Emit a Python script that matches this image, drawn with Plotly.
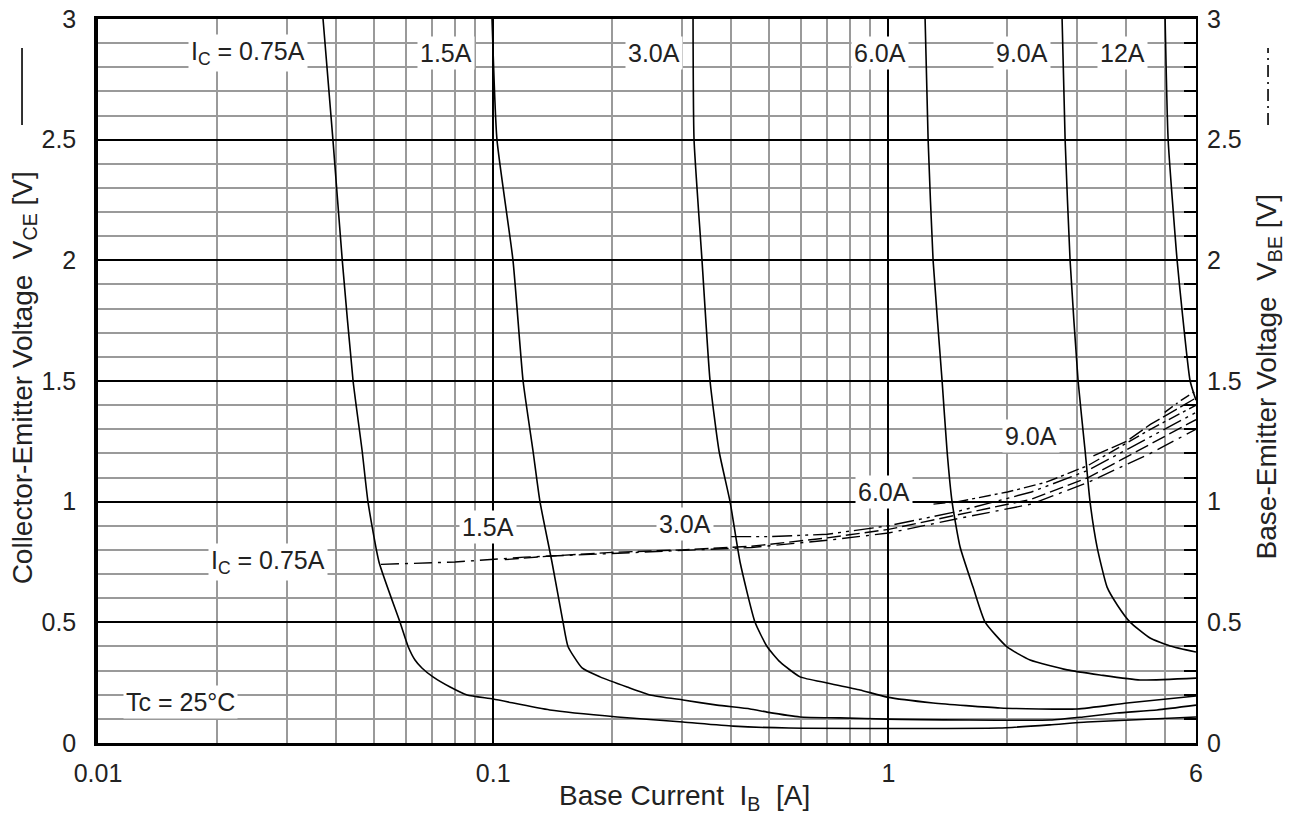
import plotly.graph_objects as go
import numpy as np

# ---------------- data ----------------
# Collector-Emitter voltage curves (solid)
ib_075 = [0.0371, 0.0393, 0.0415, 0.0442, 0.0466, 0.0482, 0.0514, 0.0581, 0.0609, 0.0634, 0.066, 0.0704,
          0.0778, 0.0859, 0.1, 0.139, 0.206, 0.302, 0.405, 0.56, 1.9, 2.56, 3.18, 6.0]
vce_075 = [3.0, 2.5, 2.0, 1.5, 1.21, 1.0, 0.75, 0.5, 0.4, 0.344, 0.311, 0.274,
           0.232, 0.199, 0.182, 0.137, 0.108, 0.087, 0.07, 0.062, 0.062, 0.075, 0.087, 0.108]

ib_15 = [0.0993, 0.1022, 0.1122, 0.119, 0.1261, 0.1313, 0.1408, 0.1502, 0.1546, 0.1678, 0.1863, 0.2181,
         0.2494, 0.3022, 0.3685, 0.4465, 0.4929, 0.5976, 0.7544, 0.992, 2.565, 3.108, 3.788, 4.782, 6.0]
vce_15 = [3.0, 2.5, 2.0, 1.5, 1.21, 1.0, 0.75, 0.5, 0.4, 0.311, 0.274, 0.232,
          0.199, 0.178, 0.157, 0.141, 0.128, 0.108, 0.104, 0.099, 0.095, 0.108, 0.124, 0.137, 0.157]

ib_30 = [0.3203, 0.3222, 0.3375, 0.3537, 0.3727, 0.3974, 0.4212, 0.4597, 0.4929, 0.5317, 0.5976, 0.6994,
         0.8475, 0.992, 1.297, 1.917, 3.001, 4.015, 6.0]
vce_30 = [3.0, 2.5, 2.0, 1.5, 1.21, 1.0, 0.75, 0.5, 0.4, 0.336, 0.274, 0.249,
          0.22, 0.19, 0.166, 0.145, 0.141, 0.166, 0.195]

ib_60 = [1.238, 1.26, 1.297, 1.367, 1.407, 1.449, 1.518, 1.637, 1.756, 1.996, 2.282, 2.831, 3.431, 4.331, 6.0]
vce_60 = [3.0, 2.5, 2.0, 1.5, 1.21, 0.998, 0.812, 0.646, 0.501, 0.398, 0.344, 0.303, 0.282, 0.261, 0.269]

ib_90 = [2.75, 2.799, 2.881, 3.019, 3.145, 3.237, 3.372, 3.574, 3.80, 4.086, 4.591, 5.159, 6.0]
vce_90 = [3.0, 2.5, 2.0, 1.5, 1.21, 0.998, 0.812, 0.646, 0.57, 0.501, 0.435, 0.402, 0.377]

ib_120 = [5.012, 5.101, 5.375, 5.534, 5.798, 6.0]
vce_120 = [3.0, 2.5, 2.0, 1.79, 1.5, 1.42]

# Base-Emitter voltage curves (dash / dash-dot)
ibb_075 = [0.052, 0.08, 0.12, 0.2, 0.3, 0.45, 0.7, 1.0, 1.5, 2.3, 3.2, 4.6, 6.0]
vbe_075 = [0.74, 0.75, 0.77, 0.785, 0.795, 0.81, 0.84, 0.87, 0.93, 0.99, 1.08, 1.2, 1.30]

ibb_15 = [0.107, 0.14, 0.2, 0.3, 0.45, 0.7, 1.0, 1.5, 2.3, 3.2, 4.6, 6.0]
vbe_15 = [0.76, 0.775, 0.79, 0.80, 0.815, 0.85, 0.885, 0.945, 1.01, 1.10, 1.24, 1.34]

ibb_30 = [0.40, 0.5, 0.7, 1.0, 1.5, 2.3, 3.2, 4.6, 6.0]
vbe_30 = [0.855, 0.855, 0.865, 0.90, 0.96, 1.04, 1.13, 1.27, 1.37]

ibb_60 = [1.3, 1.5, 2.0, 2.5, 3.2, 4.6, 6.0]
vbe_60 = [0.99, 1.0, 1.04, 1.08, 1.15, 1.30, 1.40]

ibb_90 = [3.3, 4.0, 4.6, 5.3, 6.0]
vbe_90 = [1.19, 1.25, 1.32, 1.38, 1.43]

ibb_120 = [5.0, 5.5, 6.0]
vbe_120 = [1.37, 1.42, 1.46]

x_ticks = [0.01, 0.1, 1, 6]
x_ticktext = ["0.01", "0.1", "1", "6"]
y_ticks = [0, 0.5, 1, 1.5, 2, 2.5, 3]
y_ticktext = ["0", "0.5", "1", "1.5", "2", "2.5", "3"]
x_minor = [0.02, 0.03, 0.04, 0.05, 0.06, 0.07, 0.08, 0.09,
           0.2, 0.3, 0.4, 0.5, 0.6, 0.7, 0.8, 0.9, 2, 3, 4, 5]

top_labels = ["I<sub>C</sub> = 0.75A", "1.5A", "3.0A", "6.0A", "9.0A", "12A"]
top_label_x = [0.024, 0.076, 0.255, 0.95, 2.18, 3.92]
vbe_labels = ["I<sub>C</sub> = 0.75A", "1.5A", "3.0A", "6.0A", "9.0A"]
vbe_label_x = [0.0269, 0.097, 0.3056, 0.975, 2.295]
vbe_label_y = [0.75, 0.895, 0.908, 1.04, 1.272]

# ---------------- figure ----------------
FONT = "Liberation Sans, Arial, sans-serif"
TXT = "#222"
fig = go.Figure()

vce_sets = [(ib_075, vce_075), (ib_15, vce_15), (ib_30, vce_30),
            (ib_60, vce_60), (ib_90, vce_90), (ib_120, vce_120)]
for xs, ys in vce_sets:
    fig.add_trace(go.Scatter(x=xs, y=ys, mode="lines",
                             line=dict(color="black", width=1.6, shape="spline", smoothing=0.5),
                             showlegend=False, hoverinfo="skip"))

vbe_sets = [(ibb_075, vbe_075, "18px,6px,3px,6px"),
            (ibb_15, vbe_15, "14px,5px"),
            (ibb_30, vbe_30, "20px,5px,3px,5px,3px,5px"),
            (ibb_60, vbe_60, "12px,4px,3px,4px"),
            (ibb_90, vbe_90, "16px,4px"),
            (ibb_120, vbe_120, "10px,4px,2px,4px")]
for xs, ys, d in vbe_sets:
    fig.add_trace(go.Scatter(x=xs, y=ys, mode="lines", yaxis="y2",
                             line=dict(color="black", width=1.4, dash=d),
                             showlegend=False, hoverinfo="skip"))

tick_font = dict(family=FONT, size=25, color=TXT)

fig.update_layout(
    width=1283, height=808,
    margin=dict(l=90, r=95, t=11, b=73, autoexpand=False),
    paper_bgcolor="white", plot_bgcolor="white",
    font=dict(family=FONT, size=24, color=TXT),
    xaxis=dict(type="log", range=[np.log10(0.01), np.log10(6)],
               tickvals=x_ticks, ticktext=x_ticktext, tickfont=tick_font,
               showgrid=True, gridcolor="black", gridwidth=1.6,
               minor=dict(tickvals=x_minor, showgrid=True, gridcolor="#9a9a9a", gridwidth=2, ticks=""),
               showline=True, linecolor="black", linewidth=2.5, mirror=True,
               ticks="", ticklabelstandoff=6, zeroline=False, ticklabeloverflow="allow"),
    yaxis=dict(range=[0, 3], tickvals=y_ticks, ticktext=y_ticktext, tickfont=tick_font,
               showgrid=True, gridcolor="black", gridwidth=1.6,
               minor=dict(dtick=0.1, tick0=0, showgrid=True, gridcolor="#9a9a9a", gridwidth=2, ticks=""),
               showline=True, linecolor="black", linewidth=3.5,
               ticks="", ticklabelstandoff=13, zeroline=False, ticklabeloverflow="allow"),
    yaxis2=dict(range=[0, 3], overlaying="y", side="right", tickvals=y_ticks, ticktext=y_ticktext,
                tickfont=tick_font, showgrid=False, zeroline=False,
                showline=True, linecolor="black", linewidth=2,
                ticks="inside", ticklen=12, tickcolor="black", tickwidth=2,
                minor=dict(dtick=0.1, tick0=0, ticks="inside", ticklen=12, tickcolor="black", tickwidth=2),
                ticklabelstandoff=4, ticklabeloverflow="allow"),
)

lab_font = dict(family=FONT, size=25, color=TXT)
# curve labels
for t, xv in zip(top_labels, top_label_x):
    fig.add_annotation(x=np.log10(xv), y=2.86, xref="x", yref="y", text=t, showarrow=False,
                       bgcolor="white", borderpad=2, font=lab_font)
for t, xv, yv in zip(vbe_labels, vbe_label_x, vbe_label_y):
    fig.add_annotation(x=np.log10(xv), y=yv, xref="x", yref="y", text=t, showarrow=False,
                       bgcolor="white", borderpad=2, font=lab_font)
fig.add_annotation(x=np.log10(0.0162), y=0.17, xref="x", yref="y", text="Tc = 25°C", showarrow=False,
                   bgcolor="white", borderpad=2, font=lab_font)

# axis titles
ttl_font = dict(family=FONT, size=28, color=TXT)
fig.add_annotation(x=-0.0674, y=0.505, xref="paper", yref="paper", textangle=-90, showarrow=False,
                   xanchor="center", yanchor="middle",
                   text="Collector-Emitter Voltage  V<sub>CE</sub> [V]", font=ttl_font)
fig.add_annotation(x=1.0656, y=0.505, xref="paper", yref="paper", textangle=-90, showarrow=False,
                   xanchor="center", yanchor="middle",
                   text="Base-Emitter Voltage  V<sub>BE</sub> [V]", font=ttl_font)
fig.add_annotation(x=0.5346, y=-0.0746, xref="paper", yref="paper", showarrow=False,
                   xanchor="center", yanchor="middle",
                   text="Base Current  I<sub>B</sub>  [A]", font=ttl_font)

# line-style keys beside axis titles
fig.add_shape(type="line", xref="paper", yref="paper", x0=-0.0692, x1=-0.0692, y0=0.8536, y1=0.96,
              line=dict(color="black", width=1.6))
fig.add_shape(type="line", xref="paper", yref="paper", x0=1.0656, x1=1.0656, y0=0.8536, y1=0.96,
              line=dict(color="black", width=1.6, dash="12px,5px,2px,5px"))

fig.write_html("out.html")
